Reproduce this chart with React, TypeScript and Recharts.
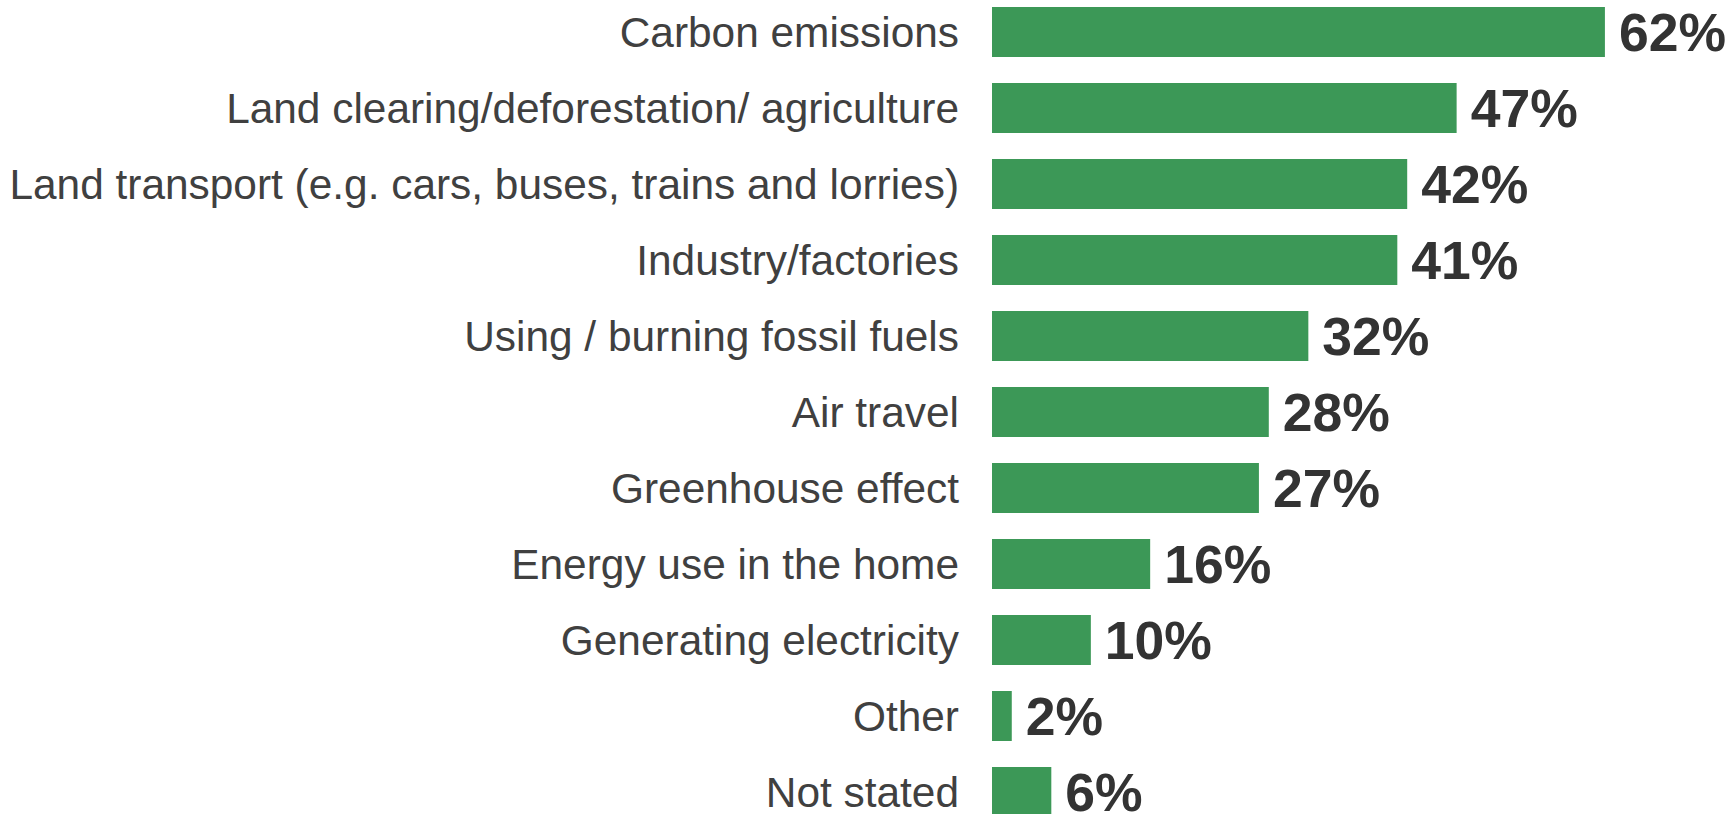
import { BarChart, Bar, XAxis, YAxis, LabelList } from 'recharts';

const categories = [
  'Carbon emissions',
  'Land clearing/deforestation/ agriculture',
  'Land transport (e.g. cars, buses, trains and lorries)',
  'Industry/factories',
  'Using / burning fossil fuels',
  'Air travel',
  'Greenhouse effect',
  'Energy use in the home',
  'Generating electricity',
  'Other',
  'Not stated',
];

const shares = [62, 47, 42, 41, 32, 28, 27, 16, 10, 2, 6];

const data = categories.map((name, i) => ({ name, value: shares[i] }));

const font = '"Liberation Sans", Arial, sans-serif';

export default function App() {
  return (
    <div
      style={{
        position: 'absolute',
        top: 0,
        left: 0,
        width: 1732,
        height: 814,
        overflow: 'hidden',
        background: '#fff',
      }}
    >
      <div style={{ marginTop: -6 }}>
        <BarChart
          width={1732}
          height={836}
          data={data}
          layout="vertical"
          margin={{ top: 0, right: 48, bottom: 0, left: 0 }}
        >
          <XAxis type="number" domain={[0, 70]} hide />
          <YAxis
            type="category"
            dataKey="name"
            width={992}
            interval={0}
            axisLine={false}
            tickLine={false}
            tickSize={0}
            tickMargin={33}
            tick={{ fontSize: 42.4, fill: '#404040', fontFamily: font }}
          />
          <Bar dataKey="value" fill="#3c9857" barSize={50} isAnimationActive={false}>
            <LabelList
              dataKey="value"
              position="right"
              offset={14}
              formatter={(v: number) => `${v}%`}
              style={{ fontSize: 53.5, fontWeight: 'bold', fill: '#333333', fontFamily: font }}
            />
          </Bar>
        </BarChart>
      </div>
    </div>
  );
}
